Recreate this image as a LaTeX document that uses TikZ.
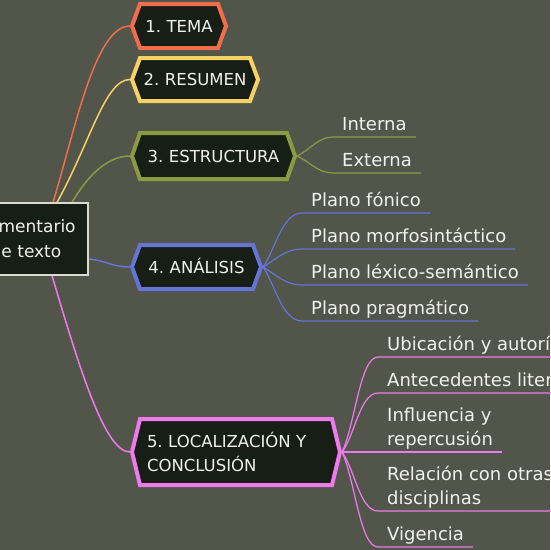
\documentclass[tikz,border=0pt]{standalone}
\usepackage{fontspec}
\setmainfont{DejaVu Sans}
\usetikzlibrary{shapes.symbols,backgrounds}
\definecolor{bgc}{HTML}{52554A}
\definecolor{nodefill}{HTML}{161E16}
\definecolor{corange}{HTML}{F06E4B}
\definecolor{cyellow}{HTML}{F5D263}
\definecolor{cgreen}{HTML}{8C9B41}
\definecolor{cblue}{HTML}{6674D8}
\definecolor{cpink}{HTML}{EE7AEE}
\definecolor{txt}{HTML}{F2F2EC}
\definecolor{cborder}{HTML}{DADAD2}
\frenchspacing
\begin{document}
\begin{tikzpicture}[x=1pt,y=-1pt,
  topic/.style={signal, signal to=east and west, draw=#1, fill=nodefill, line width=4pt,
    text=txt, font=\fontsize{16.5}{24}\selectfont, inner xsep=0pt, inner ysep=0pt, align=center},
  leaf/.style={anchor=south west, inner xsep=9pt, inner ysep=2pt, text depth=4pt,
    text=txt, font=\fontsize{18}{24}\selectfont, align=left},
  link/.style={draw=#1, line width=1.5pt},
  sublink/.style={draw=#1, line width=1.2pt},
  central/.style={draw=cborder, line width=1.2pt, fill=nodefill, minimum width=124pt,
    minimum height=72pt, text=txt, align=center, font=\fontsize{17}{25}\selectfont, inner sep=0pt}
]
\begin{scope}[on background layer]
  \fill[bgc] (0,0) rectangle (550,550);
\end{scope}
\useasboundingbox (0,0) rectangle (550,550);

\node[central] (c) at (26,239) {Comentario\\de texto};

\node[topic=corange, text width=78pt, minimum height=44pt, signal pointer angle=140,
  text height=12pt, text depth=0pt] (t1) at (179,26) {1. TEMA};
\node[topic=cyellow, text width=110pt, minimum height=43pt, signal pointer angle=139,
  text height=12pt, text depth=0pt] (t2) at (195,79.5) {2. RESUMEN};
\node[topic=cgreen, text width=147pt, minimum height=46pt, signal pointer angle=141.6,
  text height=12pt, text depth=0pt] (t3) at (213.5,156) {3. ESTRUCTURA};
\node[topic=cblue, text width=113pt, minimum height=44pt, signal pointer angle=140,
  text height=12pt, text depth=0pt] (t4) at (196.5,267) {4. ANÁLISIS};
\node[topic=cpink, text width=178pt, inner xsep=7pt, align=left, minimum height=66pt,
  signal pointer angle=152.8] (t5) at (236,452) {5. LOCALIZACIÓN Y\\CONCLUSIÓN};

\node[leaf] (e1) at (333,137) {Interna};
\node[leaf] (e2) at (333,173) {Externa};
\node[leaf] (a1) at (302,213) {Plano fónico};
\node[leaf] (a2) at (302,249) {Plano morfosintáctico};
\node[leaf] (a3) at (302,285) {Plano léxico-semántico};
\node[leaf] (a4) at (302,321) {Plano pragmático};
\node[leaf] (l1) at (378,357) {Ubicación y autoría};
\node[leaf] (l2) at (378,393) {Antecedentes literarios};
\node[leaf] (l3) at (378,452) {Influencia y\\repercusión};
\node[leaf] (l4) at (378,511) {Relación con otras\\disciplinas};
\node[leaf] (l5) at (378,547) {Vigencia};

\begin{scope}[on background layer]
  \draw[link=corange] ([xshift=27pt]c.north) .. controls (75,130) and (95,26) .. (t1.west);
  \draw[link=cyellow] ([xshift=31pt]c.north) .. controls (90,143) and (105,79.5) .. (t2.west);
  \draw[link=cgreen] ([xshift=46pt]c.north) .. controls (85,180) and (105,156) .. (t3.west);
  \draw[link=cblue] ([yshift=-20pt]c.east) .. controls (108,261) and (112,267) .. (t4.west);
  \draw[link=cpink] ([xshift=26pt]c.south) .. controls (80,370) and (105,452) .. (t5.west);

  \draw[sublink=cgreen] (t3.east) .. controls (310,150) and (318,137) .. (e1.south west) -- (e1.south east);
  \draw[sublink=cgreen] (t3.east) .. controls (310,162) and (318,173) .. (e2.south west) -- (e2.south east);

  \draw[sublink=cblue] (t4.east) .. controls (275,250) and (282,213) .. (a1.south west) -- (a1.south east);
  \draw[sublink=cblue] (t4.east) .. controls (275,260) and (285,249) .. (a2.south west) -- (a2.south east);
  \draw[sublink=cblue] (t4.east) .. controls (275,274) and (285,285) .. (a3.south west) -- (a3.south east);
  \draw[sublink=cblue] (t4.east) .. controls (275,284) and (282,321) .. (a4.south west) -- (a4.south east);

  \draw[sublink=cpink] (t5.east) .. controls (355,425) and (360,357) .. (l1.south west) -- (l1.south east);
  \draw[sublink=cpink] (t5.east) .. controls (355,435) and (360,393) .. (l2.south west) -- (l2.south east);
  \draw[sublink=cpink] (t5.east) -- (l3.south west) -- (l3.south east);
  \draw[sublink=cpink] (t5.east) .. controls (355,470) and (360,511) .. (l4.south west) -- (l4.south east);
  \draw[sublink=cpink] (t5.east) .. controls (355,480) and (360,547) .. (l5.south west) -- (l5.south east);
\end{scope}
\end{tikzpicture}
\end{document}
